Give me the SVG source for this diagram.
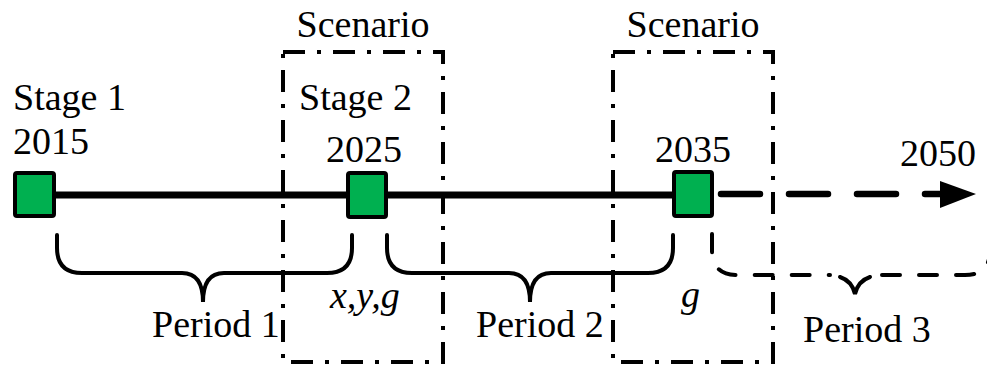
<svg xmlns="http://www.w3.org/2000/svg" width="987" height="367" viewBox="0 0 987 367">
<style>
text{font-family:"Liberation Serif","Times New Roman",serif;font-size:38px;fill:#000}
.it{font-style:italic}
.box{fill:none;stroke:#000;stroke-width:4;stroke-dasharray:22 12 4 12}
.node rect{fill:#00B050;stroke:#000;stroke-width:4}
.brace{fill:none;stroke:#000;stroke-width:4;stroke-linecap:round}
.dash{stroke-dasharray:18 19}
</style>
<rect width="987" height="367" fill="#fff"/>
<g id="scenario1">
<rect class="box" x="283" y="52" width="160" height="310"/>
<text x="363" y="37" text-anchor="middle">Scenario</text>
</g>
<g id="scenario2">
<rect class="box" x="613" y="52" width="160" height="310"/>
<text x="693" y="37" text-anchor="middle">Scenario</text>
</g>
<g id="connectors">
<line x1="56" y1="195" x2="672" y2="195" stroke="#000" stroke-width="7"/>
<line x1="721" y1="194" x2="942" y2="194" stroke="#000" stroke-width="6.5" stroke-dasharray="39 29" stroke-linecap="round"/>
<polygon points="940,181 976,194 940,208" fill="#000"/>
<path class="brace" d="M57,235 V248 Q57,273 82,273 H182 Q203,273 203,302 Q203,273 224,273 H327 Q352,273 352,248 V235"/>
<path class="brace" d="M387,235 V248 Q387,273 412,273 H509 Q530,273 530,302 Q530,273 551,273 H648 Q673,273 673,248 V235"/>
<path class="brace dash" d="M712,234 V250 Q712,275 737,275 H830"/>
<path class="brace" d="M840,277 Q852,281 855,294 Q858,281 870,277"/>
<path class="brace dash" d="M882,275 H965 Q990,275 990,250"/>
</g>
<g id="stage1" class="node">
<rect x="15" y="173" width="39" height="43" rx="2"/>
<text x="13" y="110">Stage 1</text>
<text x="13" y="154">2015</text>
</g>
<g id="stage2" class="node">
<rect x="348" y="173" width="38" height="44" rx="2"/>
<text x="299" y="110">Stage 2</text>
<text x="326" y="162">2025</text>
</g>
<g id="y2035" class="node">
<rect x="674" y="172" width="38" height="44" rx="2"/>
<text x="655" y="162">2035</text>
</g>
<g id="y2050">
<text x="900" y="166">2050</text>
</g>
<g id="labels">
<text x="152" y="337">Period 1</text>
<text x="476" y="337">Period 2</text>
<text x="803" y="342">Period 3</text>
<text class="it" x="330" y="308">x,y,g</text>
<text class="it" x="681" y="307">g</text>
</g>
</svg>
